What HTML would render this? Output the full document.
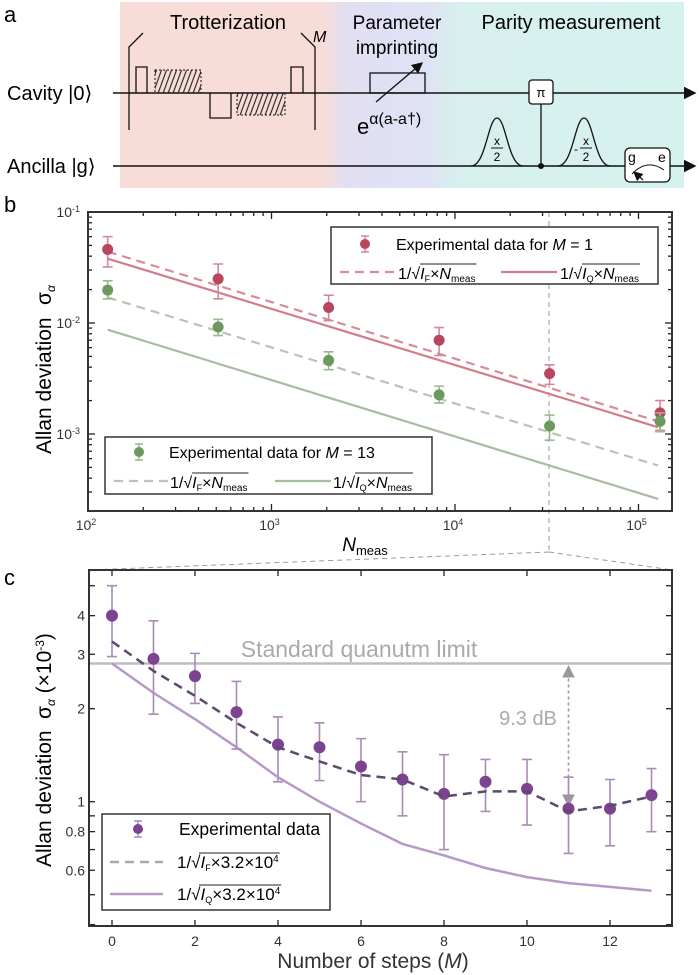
<!DOCTYPE html>
<html><head><meta charset="utf-8"><style>
html,body{margin:0;padding:0;background:#fff}
svg{display:block;font-family:"Liberation Sans",Arial,sans-serif}
</style></head><body>
<svg id="s" width="700" height="975" viewBox="0 0 700 975" xmlns="http://www.w3.org/2000/svg">
<defs>
<linearGradient id="bg" x1="0" x2="1" y1="0" y2="0">
<stop offset="0" stop-color="#f8dcd8"/><stop offset="0.36" stop-color="#f8dcd8"/>
<stop offset="0.40" stop-color="#e2dff3"/><stop offset="0.54" stop-color="#dfe2f4"/>
<stop offset="0.60" stop-color="#d7f0ee"/><stop offset="1" stop-color="#d6f2ef"/>
</linearGradient>
<pattern id="hatch" width="5" height="6" patternUnits="userSpaceOnUse" patternTransform="skewX(-20)">
<line x1="2" y1="0" x2="2" y2="6" stroke="#222" stroke-width="1.2"/></pattern>
<marker id="ar" markerWidth="8" markerHeight="8" refX="7" refY="4" orient="auto"><path d="M0,0 L8,4 L0,8 z" fill="#111"/></marker>
<marker id="ag" markerWidth="8" markerHeight="8" refX="7" refY="4" orient="auto"><path d="M0,0 L8,4 L0,8 z" fill="#999"/></marker>
<marker id="ags" markerWidth="8" markerHeight="8" refX="1" refY="4" orient="auto"><path d="M8,0 L0,4 L8,8 z" fill="#999"/></marker>
</defs>
<!-- Panel a -->
<rect x="120" y="2" width="564" height="186" fill="url(#bg)"/>
<text x="4" y="22" font-size="22">a</text>
<text x="228" y="29" font-size="20" text-anchor="middle">Trotterization</text>
<text x="397" y="29" font-size="19" text-anchor="middle">Parameter</text>
<text x="397" y="54" font-size="19" text-anchor="middle">imprinting</text>
<text x="571" y="29" font-size="20" text-anchor="middle">Parity measurement</text>
<text x="313" y="42" font-size="16" font-style="italic">M</text>
<text x="7" y="100" font-size="20">Cavity  |0⟩</text>
<text x="7" y="173" font-size="20">Ancilla |g⟩</text>
<line x1="113" y1="93" x2="695" y2="93" stroke="#111" stroke-width="1.6" marker-end="url(#ar)"/>
<line x1="113" y1="166" x2="695" y2="166" stroke="#111" stroke-width="1.6" marker-end="url(#ar)"/>
<path d="M143,33 L129,47 L129,130 M301,33 L315,47 L315,130" fill="none" stroke="#111" stroke-width="1.3"/>
<path d="M136,93 V67 H147 V93" fill="none" stroke="#111" stroke-width="1.3"/>
<rect x="155" y="70" width="46" height="23" fill="url(#hatch)" stroke="#111" stroke-dasharray="2,2"/>
<path d="M210,93 V118 H231 V93" fill="none" stroke="#111" stroke-width="1.3"/>
<rect x="237" y="93" width="48" height="22" fill="url(#hatch)" stroke="#111" stroke-dasharray="2,2"/>
<path d="M291,93 V67 H303 V93" fill="none" stroke="#111" stroke-width="1.3"/>
<rect x="370" y="73" width="55" height="20" fill="none" stroke="#111" stroke-width="1.3"/>
<line x1="376" y1="102" x2="422" y2="63" stroke="#111" stroke-width="1.4" marker-end="url(#ar)"/>
<text x="357" y="134" font-size="22">e<tspan font-size="16" dy="-10">α(a-a†)</tspan></text>
<line x1="541" y1="104" x2="541" y2="166" stroke="#111" stroke-width="1.3"/>
<circle cx="541" cy="166" r="3" fill="#111"/>
<rect x="529" y="80" width="24" height="24" rx="3" fill="#fff" stroke="#111" stroke-width="1.3"/>
<text x="541" y="97" font-size="13" text-anchor="middle">π</text>
<path d="M471,166 C486,166 488,118 497,118 C506,118 508,166 523,166" fill="none" stroke="#111" stroke-width="1.3"/>
<path d="M558,166 C573,166 575,118 584,118 C593,118 595,166 610,166" fill="none" stroke="#111" stroke-width="1.3"/>
<text x="497" y="145" font-size="12" text-anchor="middle">x</text><line x1="491" y1="148" x2="503" y2="148" stroke="#111"/><text x="497" y="161" font-size="12" text-anchor="middle">2</text>
<text x="586" y="145" font-size="12" text-anchor="middle">x</text><line x1="580" y1="148" x2="592" y2="148" stroke="#111"/><text x="586" y="161" font-size="12" text-anchor="middle">2</text><text x="574" y="153" font-size="12">-</text>
<rect x="625" y="148" width="45" height="34" rx="5" fill="#fff" stroke="#111" stroke-width="1.3"/>
<text x="628" y="162" font-size="14">g</text><text x="658" y="162" font-size="14">e</text>
<path d="M632,174 Q647,158 664,170" fill="none" stroke="#111"/>
<line x1="643" y1="180" x2="634" y2="172" stroke="#111" stroke-width="1.2" marker-end="url(#ar)"/>
<!-- labels -->
<text x="4" y="212" font-size="22">b</text>
<text x="4" y="585" font-size="22">c</text>
<g id="gb"></g><g id="gc"></g>
</svg>
<script>
const NS="http://www.w3.org/2000/svg";
function el(p,t,a,txt){const e=document.createElementNS(NS,t);for(const k in a)e.setAttribute(k,a[k]);if(txt!==undefined)e.textContent=txt;p.appendChild(e);return e;}
const gb=document.getElementById('gb'),gc=document.getElementById('gc');
// Panel b
const L=88,R=672,T=212,B=511,dec=183.5,ydec=111;
const X=n=>L+(Math.log10(n)-2)*dec, Y=v=>T+(-1-Math.log10(v))*ydec;
for(let d=2;d<=5;d++)for(let m=1;m<10;m++){const x=X(m*Math.pow(10,d));if(x>R)break;const len=m==1?7:4;
el(gb,'line',{x1:x,y1:B,x2:x,y2:B-len,stroke:'#222','stroke-width':1.3});el(gb,'line',{x1:x,y1:T,x2:x,y2:T+len,stroke:'#222','stroke-width':1.3});}
for(let d=-4;d<=-1;d++)for(let m=1;m<10;m++){const y=Y(m*Math.pow(10,d));if(y>B||y<T)continue;const len=m==1?7:4;
el(gb,'line',{x1:L,y1:y,x2:L+len,y2:y,stroke:'#222','stroke-width':1.3});el(gb,'line',{x1:R,y1:y,x2:R-len,y2:y,stroke:'#222','stroke-width':1.3});}
[[2,'2'],[3,'3'],[4,'4'],[5,'5']].forEach(([d,s])=>{const t=el(gb,'text',{x:X(Math.pow(10,d))-2,y:530,'font-size':14,'text-anchor':'middle',fill:'#333'},'10');el(t,'tspan',{dy:-5,'font-size':9},s);});
[[-1,212],[-2,323],[-3,434]].forEach(([d,y])=>{const t=el(gb,'text',{x:80,y:y+5,'font-size':14,'text-anchor':'end',fill:'#333'},'10');el(t,'tspan',{dy:-5,'font-size':9},''+d);});
el(gb,'path',{d:`M549,${T} V552 M549,552 L89,570 M549,552 L672,570`,stroke:'#999',fill:'none','stroke-dasharray':'5,4','stroke-width':1});
const Ns=[128,512,2048,8192,32768,131072];
function ln(g,x1,y1,x2,y2,col,dash,w){el(g,'line',{x1,y1,x2,y2,stroke:col,'stroke-width':w||2.2,'stroke-dasharray':dash||'none'});}
ln(gb,X(128),Y(0.044),X(128000),Y(0.0013),'#d98c98','9,6');
ln(gb,X(128),Y(0.038),X(128000),Y(0.00115),'#d27d8b','');
ln(gb,X(128),Y(0.017),X(128000),Y(0.00052),'#b9c4b4','9,6');
ln(gb,X(128),Y(0.0087),X(128000),Y(0.00026),'#a8bca0','');
function pts(g,X,Y,xs,v,lo,hi,ec,pc,r){xs.forEach((n,i)=>{const x=X(n);el(g,'path',{d:`M${x},${Y(lo[i])}V${Y(hi[i])}M${x-5},${Y(lo[i])}h10M${x-5},${Y(hi[i])}h10`,stroke:ec,'stroke-width':1.6,fill:'none'});el(g,'circle',{cx:x,cy:Y(v[i]),r:r||5.5,fill:pc});});}
pts(gb,X,Y,Ns,[0.046,0.025,0.0138,0.007,0.0035,0.00155],[0.032,0.0165,0.0105,0.0051,0.0028,0.00108],[0.06,0.034,0.0178,0.0091,0.0042,0.0020],'#d4889a','#b8465e');
pts(gb,X,Y,Ns,[0.0198,0.0092,0.0046,0.00225,0.00118,0.0013],[0.0165,0.0077,0.0038,0.0019,0.00088,0.00105],[0.024,0.0108,0.0055,0.0027,0.00148,0.00155],'#97bb8e','#6b9a5e');
el(gb,'rect',{x:L,y:T,width:R-L,height:B-T,fill:'none',stroke:'#333','stroke-width':2});
function sq(g,x,y,sub,rest,fs){
 const t=el(g,'text',{x,y,'font-size':fs||16},'1/√');el(t,'tspan',{'font-style':'italic'},'I');el(t,'tspan',{'font-size':9,dy:3},sub);
 el(t,'tspan',{dy:-3},'×');if(rest=='N'){el(t,'tspan',{'font-style':'italic'},'N');el(t,'tspan',{'font-size':10,dy:3},'meas');}else{el(t,'tspan',{},'3.2×10');el(t,'tspan',{'font-size':10,dy:-6},'4');}
 const w=t.getComputedTextLength?t.getComputedTextLength():60;el(g,'line',{x1:x+22,y1:y-15,x2:x+w+1,y2:y-15,stroke:'#222','stroke-width':1});
}
el(gb,'rect',{x:331,y:227,width:327,height:57,fill:'#fff',stroke:'#333','stroke-width':1.5});
el(gb,'path',{d:'M365,236V252M361,236h8M361,252h8',stroke:'#d4889a','stroke-width':1.5});el(gb,'circle',{cx:365,cy:244,r:5,fill:'#b8465e'});
{const t=el(gb,'text',{x:396,y:250,'font-size':16},'Experimental data for ');el(t,'tspan',{'font-style':'italic'},'M');el(t,'tspan',{},' = 1');}
ln(gb,340,272,394,272,'#d98c98','9,6');ln(gb,501,272,557,272,'#d27d8b','');
sq(gb,398,279,'F','N');sq(gb,560,279,'Q','N');
el(gb,'rect',{x:105,y:437,width:327,height:57,fill:'#fff',stroke:'#333','stroke-width':1.5});
el(gb,'path',{d:'M139,444V460M135,444h8M135,460h8',stroke:'#97bb8e','stroke-width':1.5});el(gb,'circle',{cx:139,cy:452,r:5,fill:'#6b9a5e'});
{const t=el(gb,'text',{x:169,y:458,'font-size':16},'Experimental data for ');el(t,'tspan',{'font-style':'italic'},'M');el(t,'tspan',{},' = 13');}
ln(gb,114,481,168,481,'#b9c4b4','9,6');ln(gb,275,481,331,481,'#a8bca0','');
sq(gb,170,488,'F','N');sq(gb,333,488,'Q','N');
{const t=el(gb,'text',{x:365,y:551,'font-size':19,'text-anchor':'middle','font-style':'italic'},'N');el(t,'tspan',{'font-size':13,dy:4,'font-style':'normal'},'meas');}
el(gb,'text',{x:0,y:0,'font-size':21,transform:'translate(51,454) rotate(-90)'},'Allan deviation');
{const t=el(gb,'text',{x:0,y:0,'font-size':21,transform:'translate(51,305) rotate(-90)'},'σ');el(t,'tspan',{'font-size':12,dy:4,'font-style':'italic'},'α');}
// Panel c
const cL=89,cR=672,cT=570,cB=926;
const cx=m=>112+41.5*m, cy=v=>801.7-309*Math.log10(v);
for(let m=0;m<=13;m+=2){el(gc,'line',{x1:cx(m),y1:cB,x2:cx(m),y2:cB-6,stroke:'#222','stroke-width':1.3});el(gc,'line',{x1:cx(m),y1:cT,x2:cx(m),y2:cT+6,stroke:'#222','stroke-width':1.3});
 el(gc,'text',{x:cx(m),y:946,'font-size':14,'text-anchor':'middle',fill:'#333'},''+m);}
[0.4,0.5,0.6,0.7,0.8,0.9,1,2,3,4,5].forEach(v=>{const y=cy(v);if(y>cB)return;el(gc,'line',{x1:cL,y1:y,x2:cL+6,y2:y,stroke:'#222','stroke-width':1.3});el(gc,'line',{x1:cR,y1:y,x2:cR-6,y2:y,stroke:'#222','stroke-width':1.3});});
[[4,'4'],[3,'3'],[2,'2'],[1,'1'],[0.8,'0.8'],[0.6,'0.6']].forEach(([v,s])=>el(gc,'text',{x:85,y:cy(v)+5,'font-size':14,'text-anchor':'end',fill:'#333'},s));
el(gc,'line',{x1:cL,y1:cy(2.8),x2:cR,y2:cy(2.8),stroke:'#bdbdbd','stroke-width':2.5});
el(gc,'text',{x:359,y:657,'font-size':23,'text-anchor':'middle',fill:'#aaa'},'Standard quanutm limit');
el(gc,'text',{x:528,y:725,'font-size':20,'text-anchor':'middle',fill:'#aaa'},'9.3 dB');
el(gc,'line',{x1:cx(11),y1:cy(2.8)+3,x2:cx(11),y2:cy(0.95)-3,stroke:'#999','stroke-width':1.6,'stroke-dasharray':'3,3','marker-end':'url(#ag)','marker-start':'url(#ags)'});
const sol=[2.8,2.25,1.85,1.5,1.2,1.0,0.85,0.73,0.67,0.61,0.57,0.545,0.53,0.515];
const das=[3.3,2.65,2.2,1.8,1.5,1.35,1.22,1.18,1.04,1.08,1.08,0.93,0.97,1.04];
el(gc,'polyline',{points:sol.map((v,i)=>cx(i)+','+cy(v)).join(' '),fill:'none',stroke:'#b898c6','stroke-width':2.5});
const ms=[...Array(14).keys()];
const cv=[4.0,2.9,2.55,1.95,1.53,1.5,1.3,1.18,1.06,1.16,1.1,0.95,0.95,1.05];
const clo=[2.95,1.92,2.08,1.48,1.16,1.17,1.0,0.9,0.7,0.93,0.84,0.68,0.72,0.8];
const chi=[5.0,3.85,3.02,2.45,1.88,1.8,1.6,1.45,1.42,1.37,1.37,1.2,1.18,1.28];
pts(gc,cx,cy,ms,cv,clo,chi,'#a98bb8','#7b4390',6);
el(gc,'polyline',{points:das.map((v,i)=>cx(i)+','+cy(v)).join(' '),fill:'none',stroke:'#5e4870','stroke-width':2.5,'stroke-dasharray':'9,6'});
el(gc,'rect',{x:cL,y:cT,width:cR-cL,height:cB-cT,fill:'none',stroke:'#333','stroke-width':2});
el(gc,'rect',{x:102,y:814,width:228,height:96,fill:'#fff',stroke:'#333','stroke-width':1.5});
el(gc,'path',{d:'M138,821V837M134,821h8M134,837h8',stroke:'#a98bb8','stroke-width':1.5});el(gc,'circle',{cx:138,cy:829,r:5,fill:'#7b4390'});
el(gc,'text',{x:179,y:835,'font-size':17.5},'Experimental data');
ln(gc,110,862,163,862,'#aaa','9,6',2.5);ln(gc,110,894,163,894,'#b898c6','',2.5);
sq(gc,177,868,'F','x',17);sq(gc,177,900,'Q','x',17);
{const t=el(gc,'text',{x:373,y:968,'font-size':21,'text-anchor':'middle',fill:'#333'},'Number of steps (');el(t,'tspan',{'font-style':'italic'},'M');el(t,'tspan',{},')');}
el(gc,'text',{x:0,y:0,'font-size':21,transform:'translate(51,867) rotate(-90)'},'Allan deviation');
{const t=el(gc,'text',{x:0,y:0,'font-size':21,transform:'translate(51,719) rotate(-90)'},'σ');el(t,'tspan',{'font-size':12,dy:4,'font-style':'italic'},'α');el(t,'tspan',{dy:-4},' (×10');el(t,'tspan',{'font-size':12,dy:-7},'-3');el(t,'tspan',{dy:7},')');}
</script>
</body></html>
